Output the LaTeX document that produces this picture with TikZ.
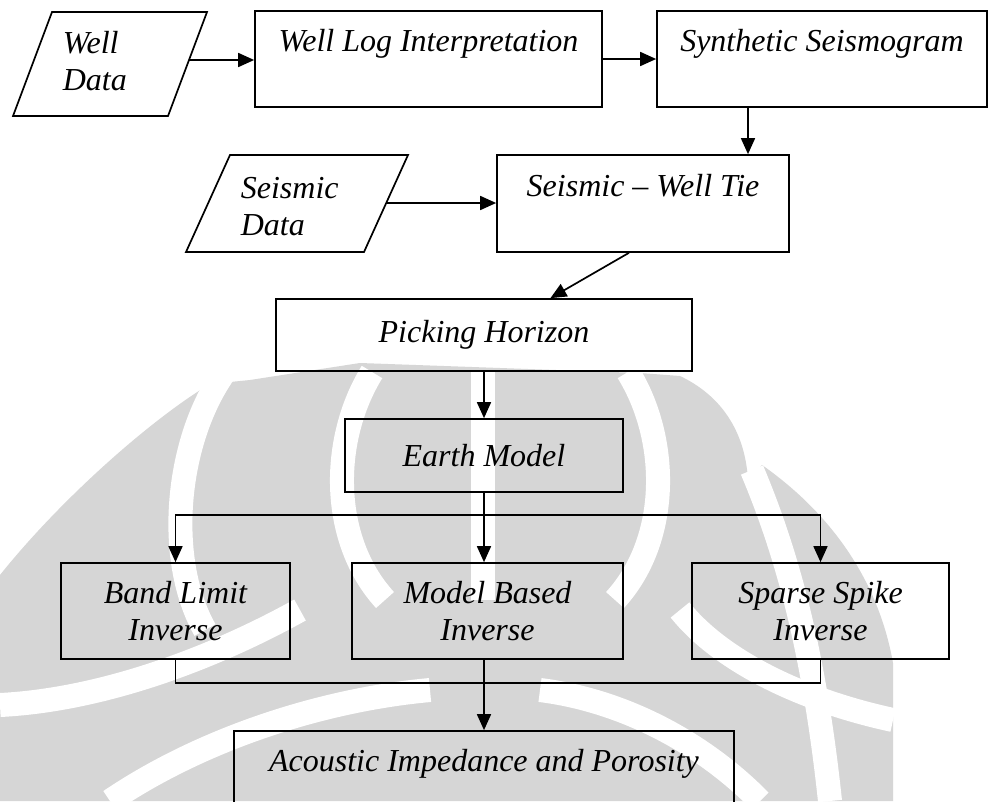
\documentclass[tikz,border=0pt]{standalone}
\usepackage{fontspec}
\setmainfont{Liberation Serif}
\usetikzlibrary{arrows.meta,calc}
\definecolor{wmgray}{gray}{0.84}
\begin{document}
\begin{tikzpicture}[x=1pt,y=-1pt,
  line width=1.7pt,
  flow/.style={-{Triangle[length=16pt,width=14pt]}},
  box/.style={draw, rectangle, inner sep=0pt, align=center,
    font=\fontsize{32}{37}\selectfont\itshape},
  label/.style={inner sep=0pt, align=left,
    font=\fontsize{32}{37}\selectfont\itshape},
  gap/.style={draw=white, line width=24pt, line cap=butt},
]
\path[use as bounding box, clip] (0,0) rectangle (988,801);
\fill[white] (0,0) rectangle (988,801);

% ---- faint logo in the background ----
\fill[wmgray] (210,384) .. controls (150,420) and (60,500) .. (0,575)
  -- (0,801) -- (893,801) -- (893,663)
  .. controls (880,590) and (840,520) .. (762,465)
  -- (748,480) .. controls (745,430) and (720,395) .. (680,376)
  -- (640,373) -- (360,363) -- (250,380) -- cycle;
\draw[gap] (226,370) .. controls (175,440) and (165,560) .. (205,630);
\draw[gap] (372,372) .. controls (330,440) and (330,540) .. (385,600);
\draw[gap] (483,372) -- (483,600);
\draw[gap] (628,372) .. controls (670,440) and (670,540) .. (615,600);
\draw[gap] (752,470) .. controls (790,560) and (815,660) .. (830,801);
\draw[gap] (0,705) .. controls (100,700) and (210,660) .. (300,610);
\draw[gap] (110,801) .. controls (200,740) and (320,700) .. (430,690);
\draw[gap] (893,720) .. controls (800,700) and (720,660) .. (680,610);
\draw[gap] (760,801) .. controls (700,740) and (620,700) .. (540,690);

% ---- flowchart ----
\draw (52,12) -- (207,12) -- (168,116) -- (13,116) -- cycle;
\node[label, anchor=north west] (welldata) at (62,30) {Well\\Data};
\coordinate (wdE) at (189,60);

\draw (230,155) -- (408,155) -- (364,252) -- (186,252) -- cycle;
\node[label, anchor=north west] (seisdata) at (240,176) {Seismic\\Data};
\coordinate (sdE) at (386,203);

\node[box, minimum width=347pt, minimum height=96pt] (wli) at (428.5,59)
  {Well Log Interpretation\\\mbox{}};
\node[box, minimum width=330pt, minimum height=96pt] (syn) at (822,59)
  {Synthetic Seismogram\\\mbox{}};
\node[box, minimum width=292pt, minimum height=97pt] (swt) at (643,203.5)
  {Seismic -- Well Tie\\\mbox{}};
\node[box, minimum width=416pt, minimum height=72pt] (pick) at (484,335)
  {Picking Horizon};
\node[box, minimum width=278pt, minimum height=73pt] (earth) at (484,455.5)
  {Earth Model};
\node[box, minimum width=229pt, minimum height=96pt] (band) at (175.5,611)
  {Band Limit\\Inverse};
\node[box, minimum width=271pt, minimum height=96pt] (model) at (487.5,611)
  {Model Based\\Inverse};
\node[box, minimum width=257pt, minimum height=96pt] (sparse) at (820.5,611)
  {Sparse Spike\\Inverse};
\node[box, minimum width=500pt, minimum height=96pt] (acoustic) at (484,779)
  {Acoustic Impedance and Porosity\\\mbox{}};

\coordinate (synout) at (748,0);
\coordinate (split) at (484,515);
\coordinate (merge) at (484,683);

\draw[flow] (wdE) -- (wdE -| wli.west);
\draw[flow] (wli.east) -- (syn.west);
\draw[flow] (synout |- syn.south) -- (synout |- swt.north);
\draw[flow] (sdE) -- (sdE -| swt.west);
\draw[flow] ($(swt.south west)!0.452!(swt.south east)$)
  -- ($(pick.north west)!0.659!(pick.north east)$);
\draw[flow] (pick.south) -- (earth.north);
\draw (earth.south) -- (split);
\draw[flow] (split) -- (split |- model.north);
\draw[flow] (split) -| (band.north);
\draw[flow] (split) -| (sparse.north);
\draw (band.south) |- (merge);
\draw (sparse.south) |- (merge);
\draw (merge |- model.south) -- (merge);
\draw[flow] (merge) -- (merge |- acoustic.north);
\end{tikzpicture}
\end{document}
